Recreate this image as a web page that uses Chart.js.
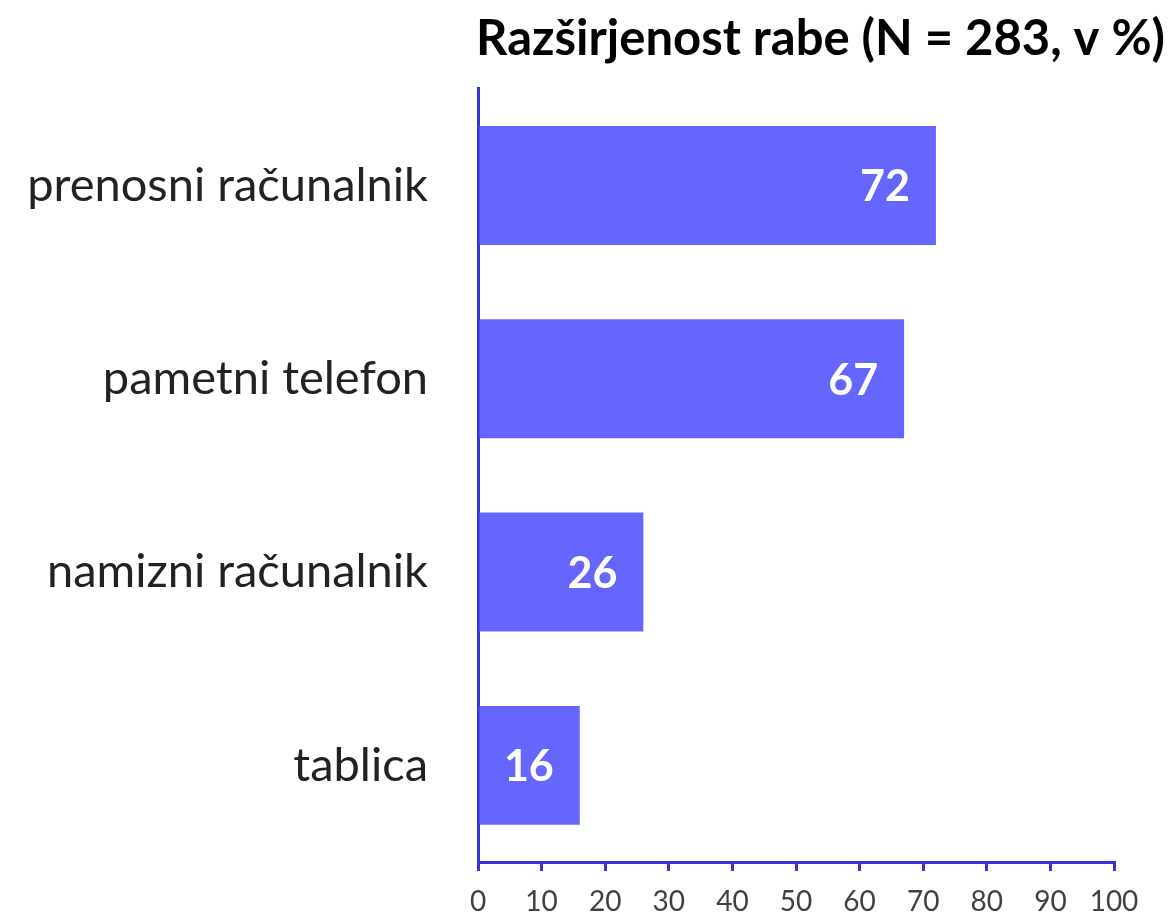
<!DOCTYPE html>
<html>
<head>
<meta charset="utf-8">
<script src="https://cdn.jsdelivr.net/npm/chart.js@4"></script>
<style>
  html, body { margin: 0; padding: 0; background: #fff; }
  #wrap { width: 1173px; height: 915px; }
</style>
</head>
<body>
<div id="wrap"><canvas id="chart" width="1173" height="915"></canvas></div>
<script>
const categories = ['prenosni računalnik', 'pametni telefon', 'namizni računalnik', 'tablica'];
const shares = [72, 67, 26, 16];
const xTicks = [0, 10, 20, 30, 40, 50, 60, 70, 80, 90, 100];
const titleText = 'Razširjenost rabe (N = 283, v %)';

const BAR = '#6666ff';
const AXIS = '#3535d6';

// white value labels at the end of each bar
const barValues = {
  id: 'barValues',
  afterDatasetsDraw(chart) {
    const { ctx } = chart;
    const meta = chart.getDatasetMeta(0);
    ctx.save();
    ctx.fillStyle = '#fff';
    ctx.font = 'bold 43px Lato';
    ctx.textAlign = 'right';
    ctx.textBaseline = 'middle';
    meta.data.forEach((bar, i) => {
      ctx.fillText(String(shares[i]), bar.x - 26, bar.y + 2);
    });
    ctx.restore();
  }
};

new Chart(document.getElementById('chart'), {
  type: 'bar',
  data: {
    labels: categories,
    datasets: [{
      data: shares,
      backgroundColor: BAR,
      borderWidth: 0,
      barPercentage: 0.615,
      categoryPercentage: 1
    }]
  },
  options: {
    indexAxis: 'y',
    responsive: false,
    animation: false,
    layout: { padding: { left: 20, right: 8, top: 0, bottom: 0 } },
    plugins: {
      legend: { display: false },
      tooltip: { enabled: false },
      title: {
        display: true,
        text: titleText,
        align: 'end',
        color: '#000',
        font: { family: 'Lato', size: 49, weight: 'bold' },
        padding: { top: 10, bottom: 20 }
      }
    },
    scales: {
      x: {
        min: 0,
        max: 100,
        afterFit(scale) { scale.paddingRight = 59; scale.height = 53; },
        afterBuildTicks(scale) { scale.ticks = xTicks.map(v => ({ value: v })); },
        border: { display: true, color: AXIS, width: 3 },
        grid: { drawOnChartArea: false, drawTicks: true, tickLength: 9, color: AXIS, lineWidth: 3 },
        ticks: { color: '#404040', font: { family: 'Lato', size: 28 }, padding: 14, maxRotation: 0 }
      },
      y: {
        afterFit(scale) { scale.width = 458; scale.paddingTop = 0; scale.paddingBottom = 0; },
        border: { display: true, color: AXIS, width: 3 },
        grid: { display: false, drawTicks: false },
        ticks: { color: '#222', font: { family: 'Lato', size: 47 }, padding: 50 }
      }
    }
  },
  plugins: [barValues]
});
</script>
</body>
</html>
